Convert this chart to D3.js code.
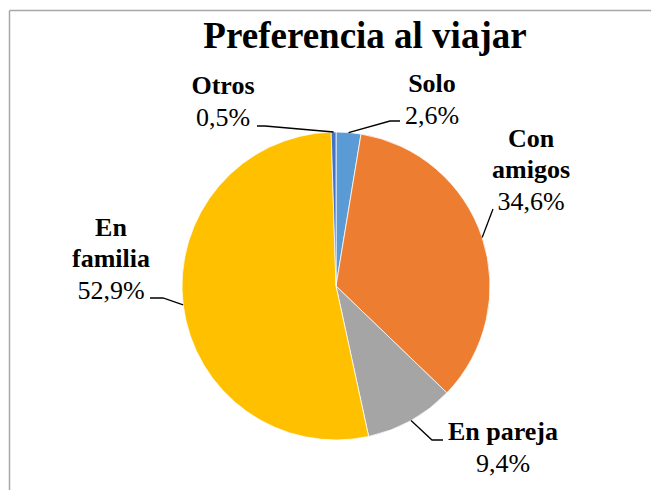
<!DOCTYPE html>
<html>
<head>
<meta charset="utf-8">
<script src="https://cdn.jsdelivr.net/npm/d3@7"></script>
<style>
  html, body { margin: 0; padding: 0; background: #fff; overflow: hidden; }
  svg { display: block; }
</style>
</head>
<body>
<svg id="chart" width="651" height="490"></svg>
<script>
// slices in drawing order, clockwise from 12 o'clock
const categories = ['Solo', 'Con amigos', 'En pareja', 'En familia', 'Otros']
const values = [2.6, 34.6, 9.4, 52.9, 0.5]
const colors = ['#5B9BD5', '#ED7D31', '#A5A5A5', '#FFC000', '#4472C4']
// bold name lines of each label
const labelLines = [['Solo'], ['Con', 'amigos'], ['En pareja'], ['En', 'familia'], ['Otros']]

// layout of the labels: centre x, baseline of the first line, leader elbow/end
const labelPos = [
  { x: 432, y: 92, elbow: [390, 121], end: [400, 121] },
  { x: 531, y: 147, elbow: [493, 209], end: [493, 209] },
  { x: 503, y: 440, elbow: [432, 440], end: [443, 440] },
  { x: 111, y: 236, elbow: [163, 298], end: [150, 298] },
  { x: 223, y: 94, elbow: [265, 126], end: [257, 126] }
]

const fmt = v => v.toFixed(1).replace('.', ',') + '%'
const FONT = 'Liberation Serif'

const svg = d3.select('#chart')
const cx = 336
const cy = 286
const radius = 154
const lineH = 31

// chart frame: top and left edges only
svg.append('line')
  .attr('x1', 9.5).attr('y1', 10.5).attr('x2', 651).attr('y2', 10.5)
  .attr('stroke', '#a6a6a6').attr('stroke-width', 1.5)
svg.append('line')
  .attr('x1', 9.5).attr('y1', 10.5).attr('x2', 9.5).attr('y2', 490)
  .attr('stroke', '#a6a6a6').attr('stroke-width', 1.5)

svg.append('text')
  .attr('x', 365).attr('y', 48)
  .attr('text-anchor', 'middle')
  .style('font-family', FONT)
  .attr('font-size', 37)
  .attr('font-weight', 'bold')
  .text('Preferencia al viajar')

const data = categories.map((c, i) => ({ name: c, value: values[i], color: colors[i], lines: labelLines[i], pos: labelPos[i] }))

const pie = d3.pie().sort(null).value(d => d.value)
const arc = d3.arc().innerRadius(0).outerRadius(radius)
const arcs = pie(data)

const g = svg.append('g').attr('transform', `translate(${cx},${cy})`)
g.selectAll('path')
  .data(arcs)
  .enter()
  .append('path')
  .attr('d', arc)
  .attr('fill', d => d.data.color)
  .attr('stroke', '#fff')
  .attr('stroke-width', 0.75)

// leader lines
svg.append('g')
  .selectAll('polyline')
  .data(arcs)
  .enter()
  .append('polyline')
  .attr('points', d => {
    const a = (d.startAngle + d.endAngle) / 2
    const sx = cx + radius * Math.sin(a)
    const sy = cy - radius * Math.cos(a)
    const p = d.data.pos
    return [[sx, sy], p.elbow, p.end].map(q => q.join(',')).join(' ')
  })
  .attr('fill', 'none')
  .attr('stroke', '#000')
  .attr('stroke-width', 1.3)

// labels: bold name lines then the percentage
data.forEach(d => {
  d.lines.forEach((line, i) => {
    svg.append('text')
      .attr('x', d.pos.x)
      .attr('y', d.pos.y + i * lineH)
      .attr('text-anchor', 'middle')
      .style('font-family', FONT)
      .attr('font-size', 26)
      .attr('font-weight', 'bold')
      .text(line)
  })
  svg.append('text')
    .attr('x', d.pos.x)
    .attr('y', d.pos.y + d.lines.length * lineH + 1)
    .attr('text-anchor', 'middle')
    .style('font-family', FONT)
    .attr('font-size', 26)
    .text(fmt(d.value))
})
</script>
</body>
</html>
